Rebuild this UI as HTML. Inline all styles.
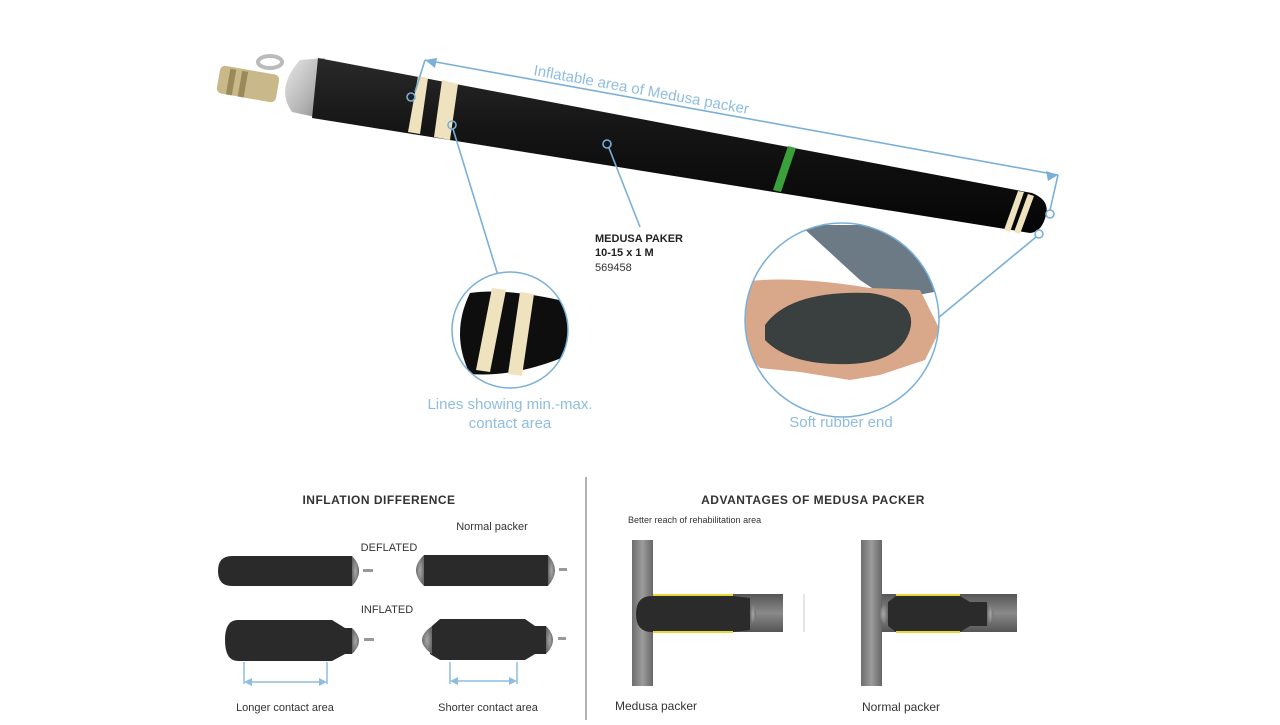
<!DOCTYPE html>
<html><head><meta charset="utf-8"><style>
body{margin:0;background:#fff;width:1280px;height:720px;overflow:hidden;font-family:"Liberation Sans",sans-serif}
</style></head><body>
<svg width="1280" height="720" viewBox="0 0 1280 720" xmlns="http://www.w3.org/2000/svg">
<defs>
<linearGradient id="hose" x1="0" y1="0" x2="0" y2="1"><stop offset="0" stop-color="#2a2a2a"/><stop offset="0.4" stop-color="#151515"/><stop offset="1" stop-color="#050505"/></linearGradient>
<linearGradient id="metal" x1="0" y1="0" x2="1" y2="1"><stop offset="0" stop-color="#e8e8e8"/><stop offset="0.6" stop-color="#b5b5b5"/><stop offset="1" stop-color="#888"/></linearGradient>
<linearGradient id="pipeV" x1="0" y1="0" x2="1" y2="0"><stop offset="0" stop-color="#6d6d6d"/><stop offset="0.5" stop-color="#9c9c9c"/><stop offset="1" stop-color="#666"/></linearGradient>
<linearGradient id="pipeH" x1="0" y1="0" x2="0" y2="1"><stop offset="0" stop-color="#555"/><stop offset="0.5" stop-color="#8a8a8a"/><stop offset="1" stop-color="#555"/></linearGradient>
<radialGradient id="cap"><stop offset="0" stop-color="#a8a8a8"/><stop offset="1" stop-color="#6a6a6a"/></radialGradient>
<clipPath id="c1"><circle cx="510" cy="330" r="58"/></clipPath>
<clipPath id="c2"><circle cx="842" cy="320" r="97"/></clipPath>
</defs>

<!-- fitting -->
<rect x="218" y="70" width="60" height="28" rx="5" fill="#c9b98a" transform="rotate(10 248 84)"/>
<rect x="228" y="72" width="6" height="26" fill="#9a8a5a" transform="rotate(10 248 84)"/>
<rect x="240" y="72" width="6" height="26" fill="#9a8a5a" transform="rotate(10 248 84)"/>
<ellipse cx="270" cy="62" rx="12" ry="6" fill="none" stroke="#bbb" stroke-width="4"/>
<!-- collar -->
<path d="M300 60 L325 58 L320 118 L292 112 Q275 88 300 60Z" fill="url(#metal)"/>
<!-- hose -->
<path d="M318 58 L1032 193 Q1050 200 1046 215 Q1042 232 1030 233 L312 118 Z" fill="url(#hose)"/>
<!-- rings -->
<path d="M418 76 L428 78 L420 134 L408 132Z" fill="#efe3bf"/>
<path d="M442 80 L458 84 L450 140 L434 137Z" fill="#efe3bf"/>
<path d="M788 146 L796 148 L781 192 L773 190Z" fill="#3aa03a"/>
<path d="M1018 191 L1024 192 L1010 232 L1004 230Z" fill="#efe3bf"/>
<path d="M1028 194 L1034 196 L1020 234 L1014 232Z" fill="#efe3bf"/>

<!-- dimension arrow -->
<g stroke="#7ab0d8" stroke-width="1.6" fill="none">
<line x1="425" y1="60" x2="1058" y2="175"/>
<polyline points="425,60 415,92"/>
<polyline points="1058,175 1050,210"/>
<circle cx="411" cy="97" r="4"/>
<circle cx="452" cy="125" r="4"/>
<circle cx="607" cy="144" r="4"/>
<circle cx="1050" cy="214" r="4"/>
<circle cx="1039" cy="234" r="4"/>
<line x1="453" y1="129" x2="500" y2="282"/>
<line x1="609" y1="148" x2="640" y2="227"/>
<line x1="1036" y1="237" x2="938" y2="318"/>
</g>
<path d="M425 60 L437 58 L435 68Z" fill="#7ab0d8"/>
<path d="M1058 175 L1046 171 L1048 181Z" fill="#7ab0d8"/>
<text x="533" y="75" font-size="15" fill="#8fbde0" transform="rotate(10.3 533 75)">Inflatable area of Medusa packer</text>

<text x="595" y="242" font-size="11" font-weight="bold" fill="#222">MEDUSA PAKER</text>
<text x="595" y="256" font-size="11" font-weight="bold" fill="#222">10-15 x 1 M</text>
<text x="595" y="271" font-size="11" fill="#333">569458</text>

<!-- circle 1 -->
<g clip-path="url(#c1)">
<rect x="440" y="270" width="140" height="120" fill="#fff"/>
<path d="M470 293 Q510 287 580 305 L580 350 Q520 378 470 374 Q450 334 470 293Z" fill="#0e0e0e"/>
<path d="M492 288 L506 290 L490 372 L476 370Z" fill="#efe3bf"/>
<path d="M520 292 L534 294 L522 376 L508 374Z" fill="#efe3bf"/>
</g>
<circle cx="510" cy="330" r="58" fill="none" stroke="#7ab0d8" stroke-width="1.5"/>

<!-- circle 2 -->
<g clip-path="url(#c2)">
<rect x="740" y="220" width="210" height="200" fill="#fff"/>
<path d="M800 225 L940 225 L945 290 L890 300 L860 280Z" fill="#6b7a85"/>
<path d="M742 282 Q790 275 870 288 L920 290 L940 330 L925 360 L880 375 L850 380 L800 372 L760 368 L742 350Z" fill="#d9a88a"/>
<path d="M765 325 Q790 290 870 293 Q918 300 910 330 Q900 362 850 364 Q790 366 765 340Z" fill="#3a403f"/>
</g>
<circle cx="842" cy="320" r="97" fill="none" stroke="#7ab0d8" stroke-width="1.5"/>

<text x="510" y="409" font-size="15" fill="#8fbde0" text-anchor="middle">Lines showing min.-max.</text>
<text x="510" y="428" font-size="15" fill="#8fbde0" text-anchor="middle">contact area</text>
<text x="841" y="427" font-size="15" fill="#8fbde0" text-anchor="middle">Soft rubber end</text>

<!-- divider -->
<line x1="586" y1="477" x2="586" y2="720" stroke="#999" stroke-width="1.5"/>

<text x="379" y="504" font-size="12" font-weight="bold" fill="#333" text-anchor="middle" letter-spacing="0.5">INFLATION DIFFERENCE</text>
<text x="813" y="504" font-size="12" font-weight="bold" fill="#333" text-anchor="middle" letter-spacing="0.5">ADVANTAGES OF MEDUSA PACKER</text>
<text x="492" y="530" font-size="11" fill="#333" text-anchor="middle">Normal packer</text>
<text x="389" y="551" font-size="11" fill="#333" text-anchor="middle">DEFLATED</text>
<text x="387" y="613" font-size="11" fill="#333" text-anchor="middle">INFLATED</text>
<text x="628" y="523" font-size="9" fill="#333">Better reach of rehabilitation area</text>

<!-- deflated left -->
<path d="M232 556 L352 556 Q366 571 352 586 L232 586 Q218 586 218 571 Q218 556 232 556Z" fill="#2a2a2a"/>
<path d="M352 556 Q366 571 352 586Z" fill="url(#cap)"/>
<rect x="363" y="569" width="10" height="3" fill="#999"/>
<!-- deflated right -->
<rect x="424" y="555" width="124" height="31" fill="#2a2a2a"/>
<path d="M424 555 Q408 570 424 586Z" fill="url(#cap)"/>
<path d="M548 555 Q562 570 548 586Z" fill="url(#cap)"/>
<rect x="559" y="568" width="8" height="3" fill="#999"/>
<!-- inflated left -->
<path d="M238 620 L332 620 L345 628 L352 628 L352 654 L345 654 L332 661 L238 661 Q225 661 225 640 Q225 620 238 620Z" fill="#2a2a2a"/>
<path d="M352 628 Q366 641 352 654Z" fill="url(#cap)"/>
<rect x="364" y="638" width="10" height="3" fill="#999"/>
<!-- inflated right -->
<path d="M440 619 L525 619 L535 626 L546 626 L546 654 L535 654 L525 660 L440 660 L430 654 L432 626Z" fill="#2a2a2a"/>
<path d="M432 626 Q412 640 432 654Z" fill="url(#cap)"/>
<path d="M546 626 Q560 640 546 654Z" fill="url(#cap)"/>
<rect x="558" y="637" width="8" height="3" fill="#999"/>

<g stroke="#8fbde0" stroke-width="1.5" fill="none">
<line x1="244" y1="662" x2="244" y2="684"/><line x1="327" y1="662" x2="327" y2="684"/><line x1="246" y1="682" x2="325" y2="682"/>
<line x1="450" y1="662" x2="450" y2="684"/><line x1="517" y1="662" x2="517" y2="684"/><line x1="452" y1="681" x2="515" y2="681"/>
</g>
<path d="M244 682 L252 678 L252 686Z M327 682 L319 678 L319 686Z M450 681 L458 677 L458 685Z M517 681 L509 677 L509 685Z" fill="#8fbde0"/>
<text x="285" y="711" font-size="11" fill="#333" text-anchor="middle">Longer contact area</text>
<text x="488" y="711" font-size="11" fill="#333" text-anchor="middle">Shorter contact area</text>

<!-- advantage left -->
<rect x="632" y="540" width="21" height="146" fill="url(#pipeV)"/>
<rect x="653" y="594" width="130" height="38" fill="url(#pipeH)"/>
<path d="M652 596 L733 596 L750 598 L750 630 L733 632 L652 632 Q636 632 636 614 Q636 596 652 596Z" fill="#2b2b2b"/>
<rect x="653" y="594" width="80" height="2" fill="#e5d83a"/>
<rect x="653" y="631" width="80" height="2" fill="#e5d83a"/>
<path d="M750 602 Q762 614 750 626Z" fill="url(#cap)"/>
<line x1="804" y1="594" x2="804" y2="632" stroke="#ccc"/>
<!-- advantage right -->
<rect x="861" y="540" width="21" height="146" fill="url(#pipeV)"/>
<rect x="882" y="594" width="135" height="38" fill="url(#pipeH)"/>
<path d="M888 602 L896 596 L960 596 L970 602 L987 602 L987 626 L970 626 L960 632 L896 632 L888 626Z" fill="#2b2b2b"/>
<rect x="896" y="594" width="64" height="2" fill="#e5d83a"/>
<rect x="896" y="631" width="64" height="2" fill="#e5d83a"/>
<path d="M888 602 Q870 614 888 626Z" fill="url(#cap)"/>
<path d="M987 602 Q1000 614 987 626Z" fill="url(#cap)"/>

<text x="656" y="710" font-size="12" fill="#333" text-anchor="middle">Medusa packer</text>
<text x="901" y="711" font-size="12" fill="#333" text-anchor="middle">Normal packer</text>
</svg>
</body></html>
